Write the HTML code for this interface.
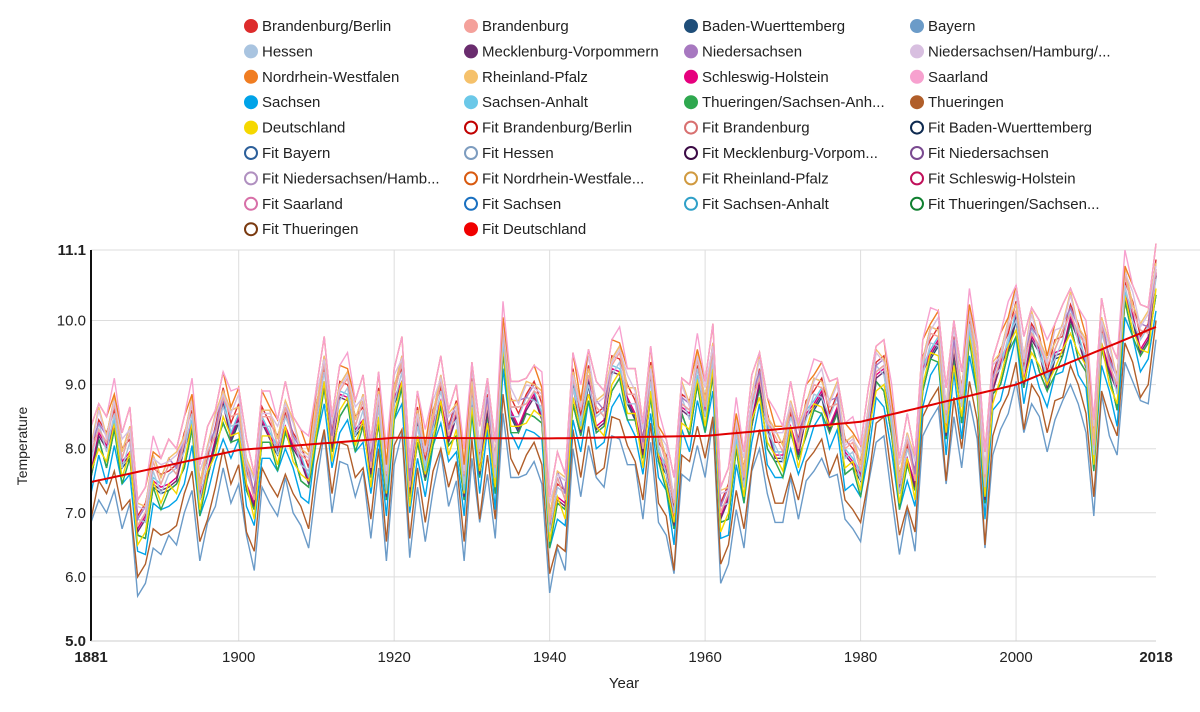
<!DOCTYPE html>
<html><head><meta charset="utf-8"><style>
body{margin:0;background:#fff;font-family:"Liberation Sans",Arial,sans-serif;}
svg text{font-family:"Liberation Sans",Arial,sans-serif;}
</style></head><body>
<svg id="chart" width="1200" height="707" xmlns="http://www.w3.org/2000/svg">
<g id="legend"></g>
<g id="grid"></g>
<g id="series"></g>
<g id="axes"></g>
<text x="624" y="688" font-size="15" text-anchor="middle" fill="#222">Year</text>
<text transform="translate(27,446) rotate(-90)" font-size="14" text-anchor="middle" fill="#222">Temperature</text>
</svg>
<script>
const startYear = 1881;
const deutschland = [7.6,8.1,7.8,8.3,7.6,7.9,6.6,6.7,7.4,7.2,7.4,7.4,7.8,8.3,7.1,7.6,8.0,8.5,8.1,8.3,7.4,7.0,8.2,8.1,7.8,8.3,7.9,7.6,7.4,8.3,9.0,7.9,8.6,8.7,8.1,8.4,7.5,8.5,7.2,8.6,9.0,7.2,8.2,7.5,8.2,8.7,8.0,8.3,7.2,8.7,7.6,8.5,7.4,9.5,8.4,8.3,8.5,8.6,8.4,6.6,7.2,7.0,8.8,8.2,8.9,8.3,8.3,9.0,9.1,8.6,8.5,7.8,8.9,7.8,7.5,6.8,8.5,8.3,9.0,8.4,9.2,6.8,7.0,8.0,7.3,8.4,8.9,8.1,7.8,7.7,8.3,7.8,8.3,8.6,8.7,8.3,8.5,7.7,7.7,7.4,8.2,9.0,9.0,8.2,7.2,7.8,7.3,9.0,9.4,9.5,8.2,9.4,8.5,9.7,9.0,7.2,8.8,9.1,9.5,9.9,9.0,9.6,9.3,8.9,9.3,9.5,9.9,9.5,9.2,7.8,9.6,9.1,8.7,10.3,9.9,9.5,9.6,10.5];
const regionNames = ["Brandenburg/Berlin","Brandenburg","Baden-Wuerttemberg","Bayern","Hessen","Mecklenburg-Vorpommern","Niedersachsen","Niedersachsen/Hamburg/...","Nordrhein-Westfalen","Rheinland-Pfalz","Schleswig-Holstein","Saarland","Sachsen","Sachsen-Anhalt","Thueringen/Sachsen-Anh...","Thueringen","Deutschland"];
const regionOffsets = [0.35,0.3,0.0,-0.85,0.2,0.1,0.4,0.45,0.65,0.45,0.15,0.7,-0.25,0.25,-0.05,-0.6,0];
const regionColors = ["#dd2c2c","#f4a19b","#1f4e79","#6b9bc8","#a9c4e0","#6a2c6e","#a778c0","#d8bfe0","#f07d22","#f5c16b","#e6007e","#f7a1cf","#00a3e8","#6bc8e8","#2fa84f","#b05e2a","#f5d800"];
const fitYears = [1881,1900,1920,1940,1960,1980,2000,2018];
const fitValues = [7.48,7.98,8.17,8.16,8.2,8.42,9.0,9.9];
const fitLegend = ["Fit Brandenburg/Berlin","Fit Brandenburg","Fit Baden-Wuerttemberg","Fit Bayern","Fit Hessen","Fit Mecklenburg-Vorpom...","Fit Niedersachsen","Fit Niedersachsen/Hamb...","Fit Nordrhein-Westfale...","Fit Rheinland-Pfalz","Fit Schleswig-Holstein","Fit Saarland","Fit Sachsen","Fit Sachsen-Anhalt","Fit Thueringen/Sachsen...","Fit Thueringen","Fit Deutschland"];
const fitColors = ["#c00000","#d87070","#0e2a50","#2c5f9a","#7d9cbf","#3b0a45","#7a4a90","#b090c0","#d85a10","#d09a40","#c0105a","#d870a8","#1a70c0","#30a0c8","#108030","#7a3a10","#f00000"];
const yTicks = [5.0,6.0,7.0,8.0,9.0,10.0,11.1];
const xTicks = [1881,1900,1920,1940,1960,1980,2000,2018];

const NS="http://www.w3.org/2000/svg";
const X0=91,X1=1156,Y0=641,Y1=250,YMIN=5.0,YMAX=11.1;
const xs=y=>X0+(y-1881)/(2018-1881)*(X1-X0);
const ys=v=>Y0-(v-YMIN)/(YMAX-YMIN)*(Y0-Y1);
function mk(t,a,p){const e=document.createElementNS(NS,t);for(const k in a)e.setAttribute(k,a[k]);p.appendChild(e);return e;}
const grid=document.getElementById('grid'),axes=document.getElementById('axes'),ser=document.getElementById('series'),leg=document.getElementById('legend');
xTicks.forEach((t,i)=>{
 if(i>0&&i<xTicks.length-1){const l=mk('line',{x1:xs(t),x2:xs(t),y1:Y1,y2:Y0,stroke:'#ddd'},grid);}
 const tx=mk('text',{x:xs(t),y:662,'font-size':15,'text-anchor':'middle',fill:'#222','font-weight':(i==0||i==xTicks.length-1)?'bold':'normal'},axes);tx.textContent=t;
 
});
yTicks.forEach((t,i)=>{
 if(i>0){const g=mk('line',{x1:X0,x2:i==yTicks.length-1?1200:X1,y1:ys(t),y2:ys(t),stroke:'#ddd'},grid);}
 const tx=mk('text',{x:86,y:ys(t)+5,'font-size':15,'text-anchor':'end',fill:'#222','font-weight':(i==0||i==yTicks.length-1)?'bold':'normal'},axes);tx.textContent=t.toFixed(1);
 
});
let l=mk('line',{x1:X0,x2:X0,y1:Y1,y2:Y0,stroke:'#111','stroke-width':2},axes);
l=mk('line',{x1:X0,x2:X1,y1:Y0,y2:Y0,stroke:'#ccc','stroke-width':1},axes);
const order=[3,15,12,2,14,10,5,0,16,13,4,1,6,9,7,8,11];
order.forEach(r=>{
 const pts=deutschland.map((v,i)=>{const j=((i*7+r*3)%5-2)*0.05;return xs(startYear+i)+','+ys(v+regionOffsets[r]+j).toFixed(1);}).join(' ');
 const p=mk('polyline',{points:pts,fill:'none',stroke:regionColors[r],'stroke-width':1.4},ser);
 
});
const fp=[];for(let y=1881;y<=2018;y++){let k=0;while(k<fitYears.length-2&&y>fitYears[k+1])k++;const t=(y-fitYears[k])/(fitYears[k+1]-fitYears[k]);fp.push(xs(y)+','+ys(fitValues[k]+t*(fitValues[k+1]-fitValues[k])).toFixed(1));}
const f=mk('polyline',{points:fp.join(' '),fill:'none',stroke:'#e00000','stroke-width':2},ser);

const items=regionNames.map((n,i)=>({n,c:regionColors[i],fill:true})).concat(fitLegend.map((n,i)=>({n,c:fitColors[i],fill:i==16})));
const colX=[251,471,691,917];
items.forEach((it,i)=>{
 const col=i%4,row=Math.floor(i/4),x=colX[col],y=26+row*25.4;
 const g=mk('g',{},leg);
 mk('circle',{cx:x,cy:y,r:it.fill?7:6,fill:it.fill?it.c:'#fff',stroke:it.c,'stroke-width':it.fill?0:2},g);
 const t=mk('text',{x:x+11,y:y+5,'font-size':15,fill:'#222'},g);t.textContent=it.n;
});
</script>
</body></html>
